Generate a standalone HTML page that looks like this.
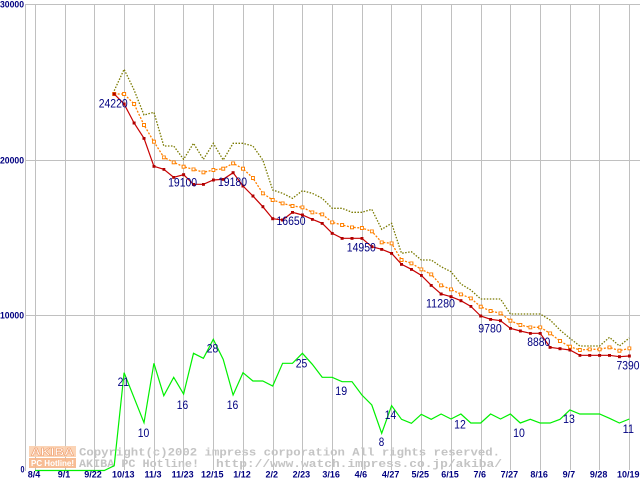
<!DOCTYPE html>
<html><head><meta charset="utf-8"><style>
html,body{margin:0;padding:0;background:#fff;width:640px;height:480px;overflow:hidden}
svg{display:block}
.ax{font-family:"Liberation Sans",sans-serif;font-weight:bold;font-size:9px;fill:#000080}
.dl{font-family:"Liberation Sans",sans-serif;font-size:12px;fill:#000080}
.wm{font-family:"Liberation Mono",monospace;font-weight:bold;font-size:11px;fill:#c4c4c4}
</style></head><body>
<svg width="640" height="480" viewBox="0 0 640 480" xmlns="http://www.w3.org/2000/svg">
<defs>
<marker id="rm" markerWidth="4" markerHeight="4" refX="1.5" refY="1.5" markerUnits="userSpaceOnUse"><rect x="0" y="0" width="3" height="3" fill="#b00000"/></marker>
<marker id="om" markerWidth="5" markerHeight="5" refX="2" refY="2" markerUnits="userSpaceOnUse"><rect x="0.5" y="0.5" width="3" height="3" fill="#fff" stroke="#ff8000" stroke-width="1" stroke-dasharray="none"/></marker>
</defs>
<rect width="640" height="480" fill="#fff"/>
<g stroke="#c0c0c0" stroke-width="1" shape-rendering="crispEdges">
<line x1="25.5" y1="4" x2="25.5" y2="471"/>
<line x1="25" y1="4.5" x2="640" y2="4.5"/>
<line x1="25" y1="160.5" x2="640" y2="160.5"/>
<line x1="25" y1="315.5" x2="640" y2="315.5"/>
<line x1="35.5" y1="4" x2="35.5" y2="470"/>
<line x1="65.5" y1="4" x2="65.5" y2="470"/>
<line x1="94.5" y1="4" x2="94.5" y2="470"/>
<line x1="124.5" y1="4" x2="124.5" y2="470"/>
<line x1="154.5" y1="4" x2="154.5" y2="470"/>
<line x1="183.5" y1="4" x2="183.5" y2="470"/>
<line x1="213.5" y1="4" x2="213.5" y2="470"/>
<line x1="243.5" y1="4" x2="243.5" y2="470"/>
<line x1="273.5" y1="4" x2="273.5" y2="470"/>
<line x1="302.5" y1="4" x2="302.5" y2="470"/>
<line x1="332.5" y1="4" x2="332.5" y2="470"/>
<line x1="362.5" y1="4" x2="362.5" y2="470"/>
<line x1="391.5" y1="4" x2="391.5" y2="470"/>
<line x1="421.5" y1="4" x2="421.5" y2="470"/>
<line x1="451.5" y1="4" x2="451.5" y2="470"/>
<line x1="481.5" y1="4" x2="481.5" y2="470"/>
<line x1="510.5" y1="4" x2="510.5" y2="470"/>
<line x1="540.5" y1="4" x2="540.5" y2="470"/>
<line x1="570.5" y1="4" x2="570.5" y2="470"/>
<line x1="599.5" y1="4" x2="599.5" y2="470"/>
<line x1="629.5" y1="4" x2="629.5" y2="470"/>
</g>
<!-- watermark -->
<rect x="29" y="446" width="47" height="11" fill="#fbcfae" fill-opacity="0.9"/>
<rect x="29" y="458" width="47" height="10" fill="#f6b68a" fill-opacity="0.9"/>
<text x="52.5" y="455.5" text-anchor="middle" textLength="43" lengthAdjust="spacingAndGlyphs" font-family="Liberation Sans,sans-serif" font-weight="bold" font-size="11" fill="#fff" stroke="#f0a070" stroke-width="0.6">AKIBA</text>
<text x="52.5" y="466" text-anchor="middle" textLength="43" lengthAdjust="spacingAndGlyphs" font-family="Liberation Sans,sans-serif" font-weight="bold" font-size="8" fill="#fff">PC Hotline!</text>
<text class="wm" x="79" y="455.3" textLength="421" lengthAdjust="spacingAndGlyphs">Copyright(c)2002 impress corporation All rights reserved.</text>
<text class="wm" x="79" y="467" textLength="120" lengthAdjust="spacingAndGlyphs">AKIBA PC Hotline!</text>
<text class="wm" x="216" y="467" textLength="286" lengthAdjust="spacingAndGlyphs">http://www.watch.impress.co.jp/akiba/</text>
<!-- series -->
<polyline fill="none" stroke="#7a7a00" stroke-width="1.3" stroke-dasharray="1.5,1.5" points="114.2,90.7 124.1,69.3 134.1,90 144.0,115 153.9,112.3 163.8,146 173.7,146 183.6,159.3 193.5,143.3 203.4,159.3 213.3,143.3 223.2,160 233.1,143.3 243.0,143.3 252.9,146 262.8,160 272.7,190 282.6,193.3 292.5,198.3 302.4,190.7 312.3,193.3 322.2,198.3 332.2,208.3 342.1,208.3 352.0,212.3 361.9,212.3 371.8,209.3 381.7,229.3 391.6,223.3 401.5,253.3 411.4,251.7 421.3,260 431.2,260 441.1,266.7 451.0,271.7 460.9,284 470.8,290 480.7,299 490.6,299 500.5,299 510.4,314 520.3,314 530.3,314 540.2,314 550.1,320 560.0,330 569.9,338.3 579.8,346 589.7,346 599.6,346 609.5,337.3 619.4,346 629.3,338"/>
<polyline fill="none" stroke="#ff8000" stroke-width="1.3" stroke-dasharray="2,1.5" marker-start="url(#om)" marker-mid="url(#om)" marker-end="url(#om)" points="114.2,94 124.1,94 134.1,104 144.0,125 153.9,141.7 163.8,157.3 173.7,162.3 183.6,166.7 193.5,169.3 203.4,172.3 213.3,170 223.2,168.7 233.1,163.3 243.0,168.7 252.9,178 262.8,193.3 272.7,200 282.6,203.3 292.5,206 302.4,207.3 312.3,212.3 322.2,214.3 332.2,222.3 342.1,225 352.0,227.3 361.9,228 371.8,231.3 381.7,242.3 391.6,243.3 401.5,260 411.4,263.3 421.3,269.3 431.2,274.3 441.1,285.3 451.0,289.3 460.9,294.3 470.8,298.3 480.7,306.7 490.6,311 500.5,313.3 510.4,320.7 520.3,325 530.3,327.3 540.2,327.3 550.1,333.3 560.0,341 569.9,346.7 579.8,350 589.7,349.3 599.6,349.3 609.5,347.3 619.4,350.7 629.3,348.3"/>
<polyline fill="none" stroke="#c80000" stroke-width="1.2" marker-start="url(#rm)" marker-mid="url(#rm)" marker-end="url(#rm)" points="114.2,94 124.1,104 134.1,123 144.0,138.3 153.9,166.3 163.8,169.3 173.7,177.3 183.6,174.7 193.5,184.3 203.4,184.3 213.3,180 223.2,179.3 233.1,172.7 243.0,186 252.9,196 262.8,206.7 272.7,218.7 282.6,220 292.5,212.3 302.4,215 312.3,219.3 322.2,223.3 332.2,233.3 342.1,238.3 352.0,238.3 361.9,238.3 371.8,246.7 381.7,249.3 391.6,253.3 401.5,264.3 411.4,269.3 421.3,275.3 431.2,285.3 441.1,294 451.0,296.7 460.9,300.7 470.8,306.3 480.7,316 490.6,319.3 500.5,320.7 510.4,328.3 520.3,331 530.3,333.3 540.2,333.3 550.1,347.3 560.0,348.7 569.9,350 579.8,355.3 589.7,355.3 599.6,355.3 609.5,355.3 619.4,356.7 629.3,356"/>
<polyline fill="none" stroke="#00f000" stroke-width="1.2" points="35,470.5 104.3,470.5 114.2,465.7 124.1,372.7 144.0,422.7 153.9,363.3 163.8,395.7 173.7,377.3 183.6,394 193.5,353.3 203.4,358.3 213.3,339.3 223.2,359.3 233.1,395 243.0,372.7 252.9,381 262.8,381 272.7,386 282.6,363.3 292.5,363.3 302.4,353.3 312.3,364.3 322.2,377.3 332.2,377.3 342.1,381.7 352.0,381.7 361.9,395 371.8,405 381.7,433.3 391.6,405.7 401.5,419.3 411.4,423.3 421.3,414.3 431.2,419.3 441.1,414 451.0,419 460.9,414 470.8,423 480.7,423 490.6,414 500.5,419 510.4,414 520.3,423 530.3,419.3 540.2,423 550.1,423 560.0,419.3 569.9,410 579.8,414 589.7,414 599.6,414 609.5,418.3 619.4,423 629.3,419"/>
<!-- data labels -->
<g class="dl" text-anchor="middle">
<text x="113.2" y="107.3" textLength="29" lengthAdjust="spacingAndGlyphs">24220</text>
<text x="182.6" y="186.7" textLength="29" lengthAdjust="spacingAndGlyphs">19100</text>
<text x="232.5" y="186" textLength="29" lengthAdjust="spacingAndGlyphs">19180</text>
<text x="291" y="225" textLength="29" lengthAdjust="spacingAndGlyphs">16650</text>
<text x="361.3" y="251.7" textLength="29" lengthAdjust="spacingAndGlyphs">14950</text>
<text x="440.5" y="307.7" textLength="29" lengthAdjust="spacingAndGlyphs">11280</text>
<text x="490" y="332.7" textLength="23.4" lengthAdjust="spacingAndGlyphs">9780</text>
<text x="538.8" y="346" textLength="23" lengthAdjust="spacingAndGlyphs">8880</text>
<text x="628" y="369.3" textLength="23" lengthAdjust="spacingAndGlyphs">7390</text>
<text x="123.3" y="386" textLength="11.4" lengthAdjust="spacingAndGlyphs">21</text>
<text x="143.5" y="437" textLength="11.6" lengthAdjust="spacingAndGlyphs">10</text>
<text x="182.5" y="409" textLength="11.4" lengthAdjust="spacingAndGlyphs">16</text>
<text x="212.5" y="352.7" textLength="11.6" lengthAdjust="spacingAndGlyphs">28</text>
<text x="232.5" y="409" textLength="11.6" lengthAdjust="spacingAndGlyphs">16</text>
<text x="301.5" y="367.3" textLength="11.6" lengthAdjust="spacingAndGlyphs">25</text>
<text x="341.2" y="395" textLength="11.8" lengthAdjust="spacingAndGlyphs">19</text>
<text x="381.5" y="446" textLength="5.5" lengthAdjust="spacingAndGlyphs">8</text>
<text x="390.5" y="419" textLength="11.4" lengthAdjust="spacingAndGlyphs">14</text>
<text x="460" y="428.3" textLength="11.7" lengthAdjust="spacingAndGlyphs">12</text>
<text x="519" y="437" textLength="11.7" lengthAdjust="spacingAndGlyphs">10</text>
<text x="569" y="423" textLength="11.7" lengthAdjust="spacingAndGlyphs">13</text>
<text x="628.3" y="433" textLength="11.4" lengthAdjust="spacingAndGlyphs">11</text>
</g>
<!-- axis labels -->
<g class="ax">
<text x="0" y="7.5" textLength="24" lengthAdjust="spacingAndGlyphs">30000</text>
<text x="0" y="163.5" textLength="24" lengthAdjust="spacingAndGlyphs">20000</text>
<text x="0" y="318.5" textLength="24" lengthAdjust="spacingAndGlyphs">10000</text>
<text x="20.5" y="472.5" textLength="4" lengthAdjust="spacingAndGlyphs">0</text>
</g>
<g class="ax" text-anchor="middle">
<text x="34" y="477.5">8/4</text>
<text x="64" y="477.5">9/1</text>
<text x="93" y="477.5">9/22</text>
<text x="123.3" y="477.5">10/13</text>
<text x="153" y="477.5">11/3</text>
<text x="182.6" y="477.5">11/23</text>
<text x="212.3" y="477.5">12/15</text>
<text x="242" y="477.5">1/12</text>
<text x="271.7" y="477.5">2/2</text>
<text x="301.4" y="477.5">2/23</text>
<text x="331.2" y="477.5">3/16</text>
<text x="360.9" y="477.5">4/6</text>
<text x="390.6" y="477.5">4/27</text>
<text x="420.3" y="477.5">5/25</text>
<text x="450" y="477.5">6/15</text>
<text x="479.7" y="477.5">7/6</text>
<text x="509.4" y="477.5">7/27</text>
<text x="539.2" y="477.5">8/16</text>
<text x="568.9" y="477.5">9/7</text>
<text x="598.6" y="477.5">9/28</text>
<text x="628.3" y="477.5">10/19</text>
</g>
</svg>
</body></html>
